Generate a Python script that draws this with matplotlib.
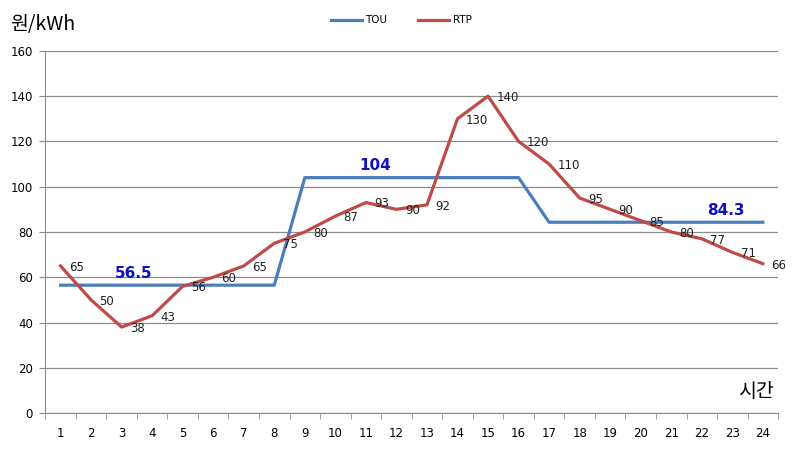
import matplotlib
matplotlib.use("Agg")
import matplotlib.pyplot as plt
from matplotlib.ticker import FixedLocator

plt.rcParams['font.family'] = ['DejaVu Sans', 'Noto Sans CJK KR']

hours = list(range(1, 25))
tou = [56.5] * 8 + [104] * 8 + [84.3] * 8
rtp = [65, 50, 38, 43, 56, 60, 65, 75, 80, 87, 93, 90,
       92, 130, 140, 120, 110, 95, 90, 85, 80, 77, 71, 66]
tou_labels = [(3.4, 56.5, "56.5"), (11.3, 104, "104"), (22.8, 84.3, "84.3")]

blue = "#4a7ebb"
red = "#be4b48"
grey = "#8c8c8c"
kr = ['Noto Sans CJK KR', 'DejaVu Sans']

fig = plt.figure(figsize=(7.94, 4.5), dpi=100)
ax = fig.add_axes([0.057, 0.082, 0.923, 0.805])

ax.plot(hours, tou, color=blue, lw=2.3, label="TOU")
ax.plot(hours, rtp, color=red, lw=2.3, label="RTP")

# 데이터 레이블 (오른쪽)
for h, v in zip(hours, rtp):
    ax.annotate(str(v), (h, v), xytext=(6, -1), textcoords="offset points",
                ha="left", va="center", fontsize=8.5, color="#202020")

for x, v, t in tou_labels:
    ax.annotate(t, (x, v), xytext=(0, 3), textcoords="offset points",
                ha="center", va="bottom", fontsize=11, fontweight="bold",
                color="#1010c0")

ax.set_xlim(0.5, 24.5)
ax.set_ylim(0, 160)
ax.set_yticks(range(0, 161, 20))
ax.set_xticks(hours)
ax.xaxis.set_minor_locator(FixedLocator([h + 0.5 for h in range(0, 25)]))
ax.tick_params(axis="x", which="major", length=0, pad=10, labelsize=8.5)
ax.tick_params(axis="x", which="minor", length=4, color=grey, direction="out")
ax.tick_params(axis="y", length=4, color=grey, labelsize=8.5, pad=5)

ax.grid(axis="y", color=grey, lw=0.9)
ax.set_axisbelow(True)
for s in ["top", "right"]:
    ax.spines[s].set_visible(False)
for s in ["left", "bottom"]:
    ax.spines[s].set_color(grey)

fig.text(0.013, 0.945, "원/kWh", fontsize=14, va="center", ha="left", family=kr)
ax.text(24.35, 5, "시간", fontsize=14, ha="right", va="bottom", family=kr)

fig.legend(loc="center", bbox_to_anchor=(0.505, 0.955), ncol=2,
           frameon=False, fontsize=7.5, handlelength=3.0, columnspacing=3.0,
           handletextpad=0.3)

fig.savefig("out.png", dpi=100)
